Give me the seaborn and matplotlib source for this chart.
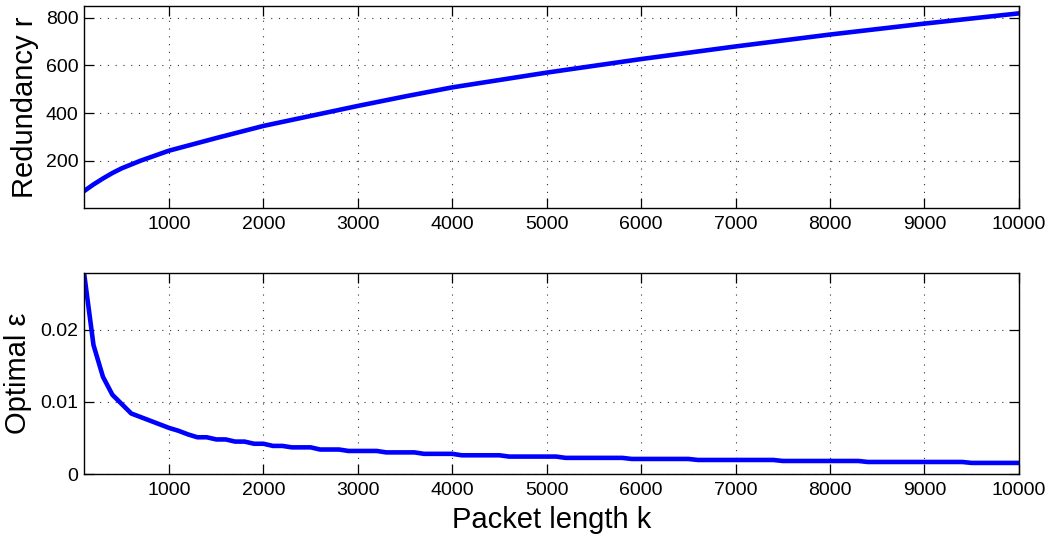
import matplotlib
matplotlib.use("Agg")
import matplotlib.pyplot as plt
import seaborn as sns
import pandas as pd

# ── Data ─────────────────────────────────────────────────────────────────────
k_r = [100, 200, 300, 400, 500, 700, 1000, 1500, 2000, 2500, 3000, 3500,
       4000, 5000, 6000, 7000, 8000, 9000, 10000]
redundancy = [72, 100, 125, 148, 168, 200, 242, 295, 346, 388, 430, 470,
              508, 570, 627, 680, 730, 776, 819]

k_eps = list(range(100, 10001, 100))
eps_opt = [
    0.0279, 0.0179, 0.0135, 0.0110, 0.0097, 0.0084, 0.0079, 0.0074, 0.0069, 0.0064,
    0.0060, 0.0055, 0.0051, 0.0051, 0.0048, 0.0048, 0.0045, 0.0045, 0.0042, 0.0042,
    0.0039, 0.0039, 0.0037, 0.0037, 0.0037, 0.0034, 0.0034, 0.0034, 0.0032, 0.0032,
    0.0032, 0.0032, 0.0030, 0.0030, 0.0030, 0.0030, 0.0028, 0.0028, 0.0028, 0.0028,
    0.0026, 0.0026, 0.0026, 0.0026, 0.0026, 0.00242, 0.00242, 0.00242, 0.00242, 0.00242,
    0.00242, 0.00224, 0.00224, 0.00224, 0.00224, 0.00224, 0.00224, 0.00224, 0.00209, 0.00209,
    0.00209, 0.00209, 0.00209, 0.00209, 0.00209, 0.00195, 0.00195, 0.00195, 0.00195, 0.00195,
    0.00195, 0.00195, 0.00195, 0.00195, 0.00181, 0.00181, 0.00181, 0.00181, 0.00181, 0.00181,
    0.00181, 0.00181, 0.00181, 0.00167, 0.00167, 0.00167, 0.00167, 0.00167, 0.00167, 0.00167,
    0.00167, 0.00167, 0.00167, 0.00167, 0.00154, 0.00154, 0.00154, 0.00154, 0.00154, 0.00154,
]

x_ticks = [1000, 2000, 3000, 4000, 5000, 6000, 7000, 8000, 9000, 10000]
r_ticks = [200, 400, 600, 800]
eps_ticks = [0, 0.01, 0.02]
eps_ticklabels = ["0", "0.01", "0.02"]

df_r = pd.DataFrame({"k": k_r, "r": redundancy})
df_eps = pd.DataFrame({"k": k_eps, "eps": eps_opt})

# ── Style ────────────────────────────────────────────────────────────────────
sns.set_theme(style="white")
plt.rcParams["font.family"] = ["Liberation Sans", "DejaVu Sans"]
plt.rcParams.update({
    "text.color": "black",
    "axes.labelcolor": "black",
    "xtick.color": "black",
    "ytick.color": "black",
})

fig = plt.figure(figsize=(10.48, 5.35), dpi=100)
ax_top = fig.add_axes([0.0802, 0.6112, 0.892, 0.3776])
ax_bot = fig.add_axes([0.0802, 0.1140, 0.892, 0.3757])

sns.lineplot(data=df_r, x="k", y="r", ax=ax_top, color="#0000ff", linewidth=3.3)
sns.lineplot(data=df_eps, x="k", y="eps", ax=ax_bot, color="#0000ff", linewidth=3.3)


def matlab_axes(ax):
    for side in ["top", "right", "bottom", "left"]:
        ax.spines[side].set_visible(True)
        ax.spines[side].set_color("black")
        ax.spines[side].set_linewidth(1.0)
    ax.tick_params(direction="in", length=7, width=0.9, colors="black",
                   top=True, right=True, bottom=True, left=True,
                   labelsize=14)
    ax.tick_params(axis="x", pad=6)
    ax.tick_params(axis="y", pad=4)
    ax.grid(True, color="#333333", linestyle=(0, (1, 6)), linewidth=0.8)
    ax.set_xlim(100, 10000)
    ax.set_xticks(x_ticks)
    ax.set_xticklabels([str(t) for t in x_ticks])


matlab_axes(ax_top)
ax_top.set_ylim(1, 850)
ax_top.set_yticks(r_ticks)
ax_top.set_xlabel("")
ax_top.set_ylabel("Redundancy r", fontsize=21)
ax_top.yaxis.set_label_coords(-0.048, 0.5)

matlab_axes(ax_bot)
ax_bot.set_ylim(0, 0.0279)
ax_bot.set_yticks(eps_ticks)
ax_bot.set_yticklabels(eps_ticklabels)
ax_bot.set_xlabel("Packet length k", fontsize=21)
ax_bot.xaxis.set_label_coords(0.5, -0.158)
ax_bot.set_ylabel("Optimal ε", fontsize=21)
ax_bot.yaxis.set_label_coords(-0.056, 0.5)

fig.savefig("out.png", dpi=100)
